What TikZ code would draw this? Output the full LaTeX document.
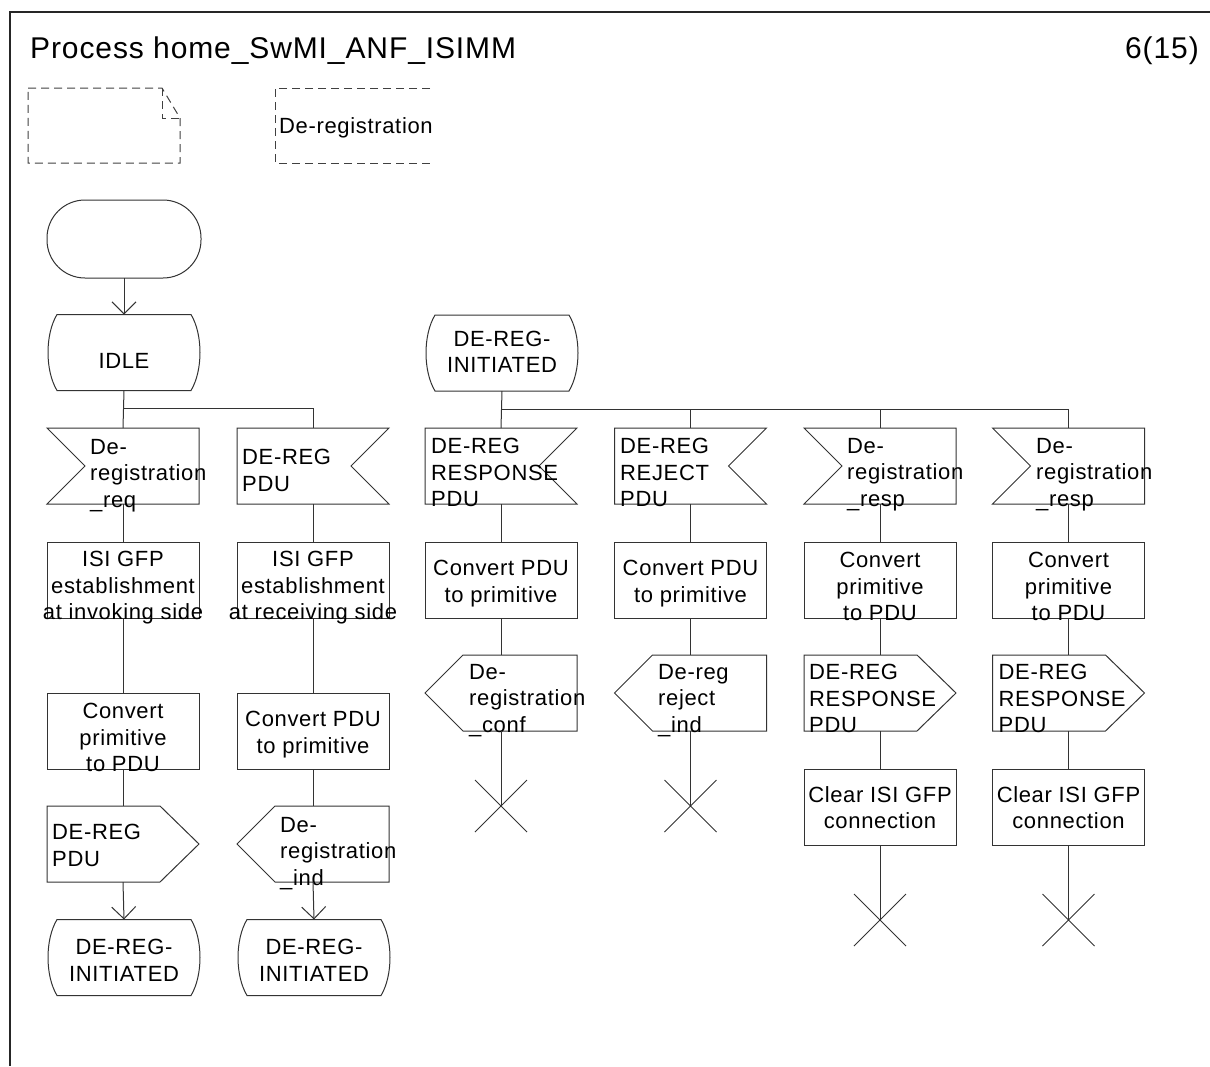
\documentclass[tikz,border=0pt]{standalone}
\usepackage{fontspec}
\setmainfont{Liberation Sans}[LetterSpace=3]
\usetikzlibrary{arrows.meta}
\tikzset{
  shp/.style={draw=black!80, line width=1pt},
  sym/.style={minimum width=152pt, minimum height=76pt, inner sep=0pt, outer sep=0pt},
  stsym/.style={minimum width=154pt, minimum height=76pt, inner sep=0pt, outer sep=0pt},
  tasksym/.style={sym, shp},
  stopsym/.style={minimum size=52pt, inner sep=0pt, outer sep=0pt},
  txt/.style={inner sep=0pt, font=\fontsize{22}{26.5}\selectfont},
  lt/.style={txt, align=left, anchor=north west},
  ct/.style={txt, align=center, anchor=north},
  arr/.style={shp, -{Straight Barb[length=12pt, width=24pt]}},
  dsh/.style={draw=black!75, line width=1pt, dash pattern=on 8pt off 5pt},
}
\newcommand\sdlInL[1]{\draw[shp] (#1.north west) -- ([xshift=38pt]#1.west) -- (#1.south west) -- (#1.south east) -- (#1.north east) -- cycle;}
\newcommand\sdlInR[1]{\draw[shp] (#1.north west) -- (#1.north east) -- ([xshift=-38pt]#1.east) -- (#1.south east) -- (#1.south west) -- cycle;}
\newcommand\sdlOutR[1]{\draw[shp] (#1.north west) -- ([xshift=-39pt]#1.north east) -- (#1.east) -- ([xshift=-39pt]#1.south east) -- (#1.south west) -- cycle;}
\newcommand\sdlOutL[1]{\draw[shp] (#1.north east) -- ([xshift=38pt]#1.north west) -- (#1.west) -- ([xshift=38pt]#1.south west) -- (#1.south east) -- cycle;}
\newcommand\sdlState[1]{\draw[shp] ([xshift=10pt]#1.north west) -- ([xshift=-10pt]#1.north east) .. controls +(12pt,-20pt) and +(12pt,20pt) .. ([xshift=-10pt]#1.south east) -- ([xshift=10pt]#1.south west) .. controls +(-12pt,20pt) and +(-12pt,-20pt) .. ([xshift=10pt]#1.north west) -- cycle;}
\newcommand\sdlStop[1]{\draw[shp] (#1.north west) -- (#1.south east) (#1.north east) -- (#1.south west);}
\begin{document}
\begin{tikzpicture}[x=1pt, y=-1pt]
\useasboundingbox (0,0) rectangle (1210,1066);
% frame
\draw[line width=1.3pt, black!85] (1210,12) -- (10,12) -- (10,1066);
\node[anchor=base west, inner sep=0pt, font=\fontsize{30}{36}\selectfont] (title) at (30,58) {Process home\_SwMI\_ANF\_ISIMM};
\node[anchor=base east, inner sep=0pt, font=\fontsize{30}{36}\selectfont] (page) at (1199,58) {6(15)};
% dashed text symbols
\draw[dsh] (28,88) -- (162,88) -- (180,118) -- (180,163) -- (28,163) -- cycle;
\draw[dsh] (162,88) -- (162,118) -- (180,118);
\draw[dsh] (430,88) -- (275,88) -- (275,163) -- (430,163);
\node[txt, anchor=base west] (dtxt) at (279,133) {De-registration};
% start
\node[stsym, minimum height=78pt] (start) at (124,239) {};
\draw[shp, rounded corners=38pt] (start.north west) rectangle (start.south east);
% states
\node[stsym] (idle) at (124,352.5) {}; \sdlState{idle}
\node[txt, anchor=base] (idlet) at (124,368) {IDLE};
\node[stsym] (st2) at (502,353) {}; \sdlState{st2}
\node[ct] (st2t) at (502,330.5) {DE-REG-\\INITIATED};
% inputs
\node[sym] (i1) at (123,466) {}; \sdlInL{i1}
\node[lt] (i1t) at (90,439) {De-\\registration\\\_req};
\node[sym] (i2) at (313,466) {}; \sdlInR{i2}
\node[lt] (i2t) at (242,449) {DE-REG\\PDU};
\node[sym] (a3) at (501,466) {}; \sdlInR{a3}
\node[lt] (a3t) at (431,438) {DE-REG\\RESPONSE\\PDU};
\node[sym] (a4) at (690.5,466) {}; \sdlInR{a4}
\node[lt] (a4t) at (620,438) {DE-REG\\REJECT\\PDU};
\node[sym] (a5) at (880,466) {}; \sdlInL{a5}
\node[lt] (a5t) at (847,438) {De-\\registration\\\_resp};
\node[sym] (a6) at (1068.5,466) {}; \sdlInL{a6}
\node[lt] (a6t) at (1036,438) {De-\\registration\\\_resp};
% tasks row 1
\node[tasksym] (t1) at (123,580) {};
\node[ct] (t1t) at (123,551) {ISI GFP\\establishment\\at invoking side};
\node[tasksym] (t2) at (313,580) {};
\node[ct] (t2t) at (313,551) {ISI GFP\\establishment\\at receiving side};
\node[tasksym] (t3) at (501,580) {};
\node[ct] (t3t) at (501,560) {Convert PDU\\to primitive};
\node[tasksym] (t4) at (690.5,580) {};
\node[ct] (t4t) at (690.5,560) {Convert PDU\\to primitive};
\node[tasksym] (t5) at (880,580) {};
\node[ct] (t5t) at (880,552) {Convert\\primitive\\to PDU};
\node[tasksym] (t6) at (1068.5,580) {};
\node[ct] (t6t) at (1068.5,552) {Convert\\primitive\\to PDU};
% tasks row 2 (left)
\node[tasksym] (u1) at (123,731) {};
\node[ct] (u1t) at (123,703) {Convert\\primitive\\to PDU};
\node[tasksym] (u2) at (313,731) {};
\node[ct] (u2t) at (313,711) {Convert PDU\\to primitive};
% outputs
\node[sym] (o1) at (123,844) {}; \sdlOutR{o1}
\node[lt] (o1t) at (52,824) {DE-REG\\PDU};
\node[sym] (o2) at (313,844) {}; \sdlOutL{o2}
\node[lt] (o2t) at (280,817) {De-\\registration\\\_ind};
\node[sym] (o3) at (501,693) {}; \sdlOutL{o3}
\node[lt] (o3t) at (469,664) {De-\\registration\\\_conf};
\node[sym] (o4) at (690.5,693) {}; \sdlOutL{o4}
\node[lt] (o4t) at (658,664) {De-reg\\reject\\\_ind};
\node[sym] (o5) at (880,693) {}; \sdlOutR{o5}
\node[lt] (o5t) at (809,664) {DE-REG\\RESPONSE\\PDU};
\node[sym] (o6) at (1068.5,693) {}; \sdlOutR{o6}
\node[lt] (o6t) at (998.5,664) {DE-REG\\RESPONSE\\PDU};
% clear tasks
\node[tasksym] (c5) at (880,807) {};
\node[ct] (c5t) at (880,786) {Clear ISI GFP\\connection};
\node[tasksym] (c6) at (1068.5,807) {};
\node[ct] (c6t) at (1068.5,786) {Clear ISI GFP\\connection};
% end states
\node[stsym] (e1) at (124,957.5) {}; \sdlState{e1}
\node[ct] (e1t) at (124,939) {DE-REG-\\INITIATED};
\node[stsym] (e2) at (314,957.5) {}; \sdlState{e2}
\node[ct] (e2t) at (314,939) {DE-REG-\\INITIATED};
% stops
\node[stopsym] (x3) at (501,806) {}; \sdlStop{x3}
\node[stopsym] (x4) at (690.5,806) {}; \sdlStop{x4}
\node[stopsym] (x5) at (880,920) {}; \sdlStop{x5}
\node[stopsym] (x6) at (1068.5,920) {}; \sdlStop{x6}
% branch points
\coordinate (br1) at ([yshift=-18pt]idle.south);
\coordinate (br2) at ([yshift=-18pt]st2.south);
% connectors
\draw[arr] (start.south) -- (idle.north);
\draw[shp] (idle.south) -- (i1.north);
\draw[shp] (br1) -| (i2.north);
\draw[shp] (i1.south) -- (t1.north);
\draw[shp] (t1.south) -- (u1.north);
\draw[shp] (u1.south) -- (o1.north);
\draw[arr] (o1.south) -- (e1.north);
\draw[shp] (i2.south) -- (t2.north);
\draw[shp] (t2.south) -- (u2.north);
\draw[shp] (u2.south) -- (o2.north);
\draw[arr] (o2.south) -- (e2.north);
\draw[shp] (st2.south) -- (a3.north);
\draw[shp] (br2) -| (a6.north);
\draw[shp] (a4.north |- br2) -- (a4.north);
\draw[shp] (a5.north |- br2) -- (a5.north);
\draw[shp] (a3.south) -- (t3.north);
\draw[shp] (t3.south) -- (o3.north);
\draw[shp] (o3.south) -- (x3.center);
\draw[shp] (a4.south) -- (t4.north);
\draw[shp] (t4.south) -- (o4.north);
\draw[shp] (o4.south) -- (x4.center);
\draw[shp] (a5.south) -- (t5.north);
\draw[shp] (t5.south) -- (o5.north);
\draw[shp] (o5.south) -- (c5.north);
\draw[shp] (c5.south) -- (x5.center);
\draw[shp] (a6.south) -- (t6.north);
\draw[shp] (t6.south) -- (o6.north);
\draw[shp] (o6.south) -- (c6.north);
\draw[shp] (c6.south) -- (x6.center);
\end{tikzpicture}
\end{document}
